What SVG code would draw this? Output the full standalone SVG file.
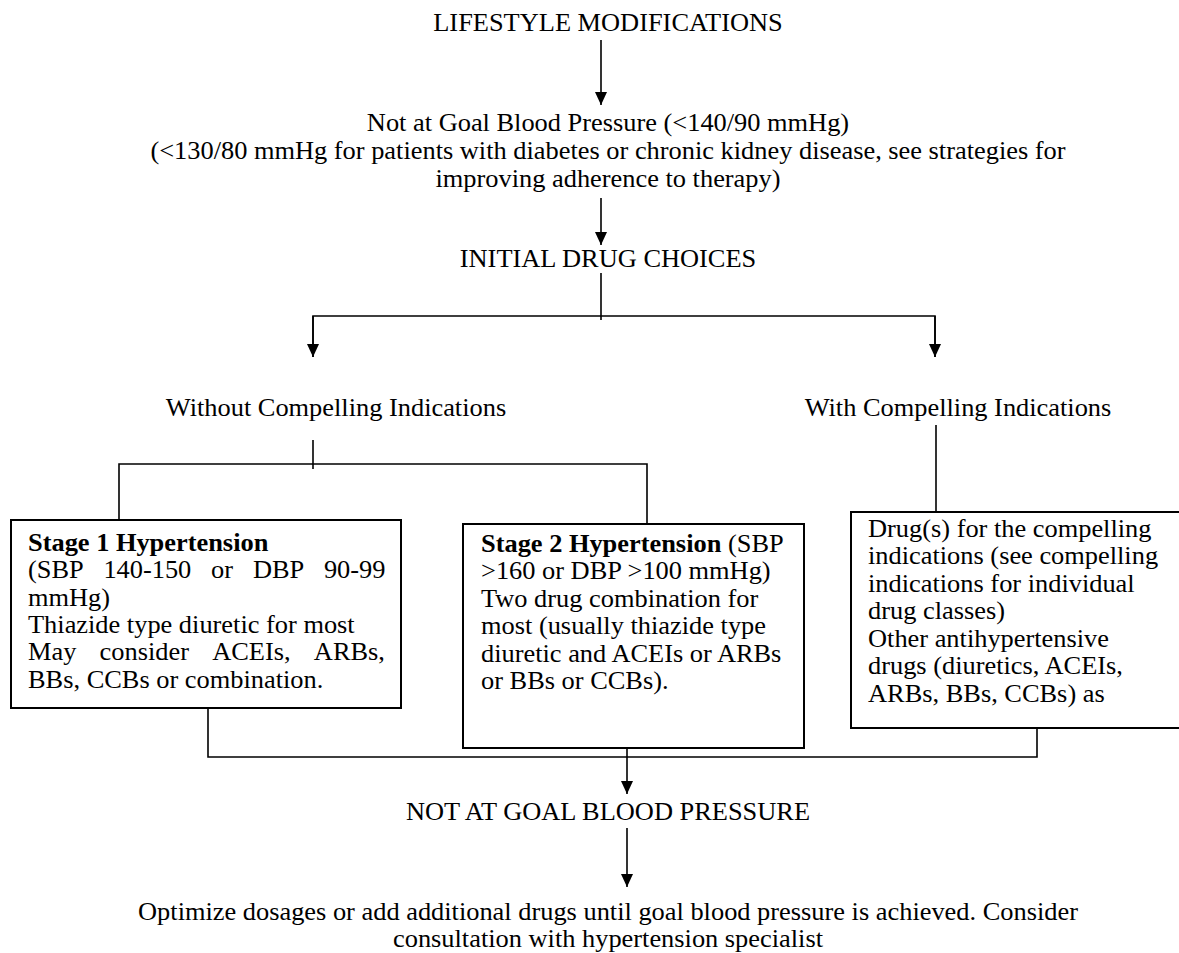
<svg xmlns="http://www.w3.org/2000/svg" width="1179" height="953" viewBox="0 0 1179 953">
<style>
text{font-family:"Liberation Serif","Times New Roman",serif;font-size:25px;fill:#000}
.c{text-anchor:middle}
.b{font-weight:bold}
.box{fill:#fff;stroke:#000;stroke-width:2}
.ln{fill:none;stroke:#000;stroke-width:1.6}
</style>
<defs>
<marker id="ah" markerUnits="userSpaceOnUse" markerWidth="13" markerHeight="12" refX="13" refY="6" orient="auto">
<path d="M0,0 L13,6 L0,12 z" fill="#000"/>
</marker>
</defs>
<rect width="1179" height="953" fill="#fff"/>
<g id="connectors">
<path class="ln" d="M601,40 V105" marker-end="url(#ah)"/>
<path class="ln" d="M601,198 V245" marker-end="url(#ah)"/>
<path class="ln" d="M601,273 V320"/>
<path class="ln" d="M313,357 V316 H935 V357"/>
<path class="ln" d="M313,316 V357" marker-end="url(#ah)"/>
<path class="ln" d="M935,316 V357" marker-end="url(#ah)"/>
<path class="ln" d="M313,440 V469"/>
<path class="ln" d="M119,520 V464 H647 V524"/>
<path class="ln" d="M936,425 V512"/>
<path class="ln" d="M208,676 V757 H1037 V717"/>
<path class="ln" d="M627,738 V794" marker-end="url(#ah)"/>
<path class="ln" d="M627,828 V887" marker-end="url(#ah)"/>
</g>
<g id="lifestyle"><text class="c" transform="matrix(1.056 0 0 1 608 0)" x="0" y="31">LIFESTYLE MODIFICATIONS</text></g>
<g id="not-at-goal">
<text class="c" transform="matrix(1.056 0 0 1 608 0)" x="0" y="131">Not at Goal Blood Pressure (&lt;140/90 mmHg)</text>
<text class="c" transform="matrix(1.056 0 0 1 608 0)" x="0" y="159">(&lt;130/80 mmHg for patients with diabetes or chronic kidney disease, see strategies for</text>
<text class="c" transform="matrix(1.056 0 0 1 608 0)" x="0" y="187">improving adherence to therapy)</text>
</g>
<g id="initial"><text class="c" transform="matrix(1.056 0 0 1 608 0)" x="0" y="267">INITIAL DRUG CHOICES</text></g>
<g id="without"><text class="c" transform="matrix(1.056 0 0 1 336 0)" x="0" y="416">Without Compelling Indications</text></g>
<g id="with"><text class="c" transform="matrix(1.056 0 0 1 958 0)" x="0" y="416">With Compelling Indications</text></g>
<g id="stage1">
<rect class="box" x="11" y="520" width="390" height="188"/>
<g transform="matrix(1.056 0 0 1 28 0)">
<text x="0" y="551" class="b">Stage 1 Hypertension</text>
<text y="578"><tspan x="0">(SBP</tspan><tspan x="71.4">140-150</tspan><tspan x="173.3">or</tspan><tspan x="213">DBP</tspan><tspan x="280.2">90-99</tspan></text>
<text x="0" y="606">mmHg)</text>
<text x="0" y="633">Thiazide type diuretic for most</text>
<text y="660"><tspan x="0">May</tspan><tspan x="67.8">consider</tspan><tspan x="174.4">ACEIs,</tspan><tspan x="270.7">ARBs,</tspan></text>
<text x="0" y="688">BBs, CCBs or combination.</text>
</g>
</g>
<g id="stage2">
<rect class="box" x="463" y="524" width="341" height="224"/>
<g transform="matrix(1.056 0 0 1 481 0)">
<text x="0" y="552"><tspan class="b">Stage 2 Hypertension</tspan> (SBP</text>
<text x="0" y="579.5">&gt;160 or DBP &gt;100 mmHg)</text>
<text x="0" y="607">Two drug combination for</text>
<text x="0" y="634.5">most (usually thiazide type</text>
<text x="0" y="662">diuretic and ACEIs or ARBs</text>
<text x="0" y="689.5">or BBs or CCBs).</text>
</g>
</g>
<g id="compelling">
<rect class="box" x="851" y="512" width="340" height="216"/>
<g transform="matrix(1.056 0 0 1 868 0)">
<text x="0" y="537">Drug(s) for the compelling</text>
<text x="0" y="564.5">indications (see compelling</text>
<text x="0" y="592">indications for individual</text>
<text x="0" y="619.5">drug classes)</text>
<text x="0" y="647">Other antihypertensive</text>
<text x="0" y="674.5">drugs (diuretics, ACEIs,</text>
<text x="0" y="702">ARBs, BBs, CCBs) as</text>
</g>
</g>
<g id="not-at-goal-2"><text class="c" transform="matrix(1.056 0 0 1 608 0)" x="0" y="820">NOT AT GOAL BLOOD PRESSURE</text></g>
<g id="optimize">
<text class="c" transform="matrix(1.056 0 0 1 608 0)" x="0" y="920">Optimize dosages or add additional drugs until goal blood pressure is achieved. Consider</text>
<text class="c" transform="matrix(1.056 0 0 1 608 0)" x="0" y="947">consultation with hypertension specialist</text>
</g>
</svg>
